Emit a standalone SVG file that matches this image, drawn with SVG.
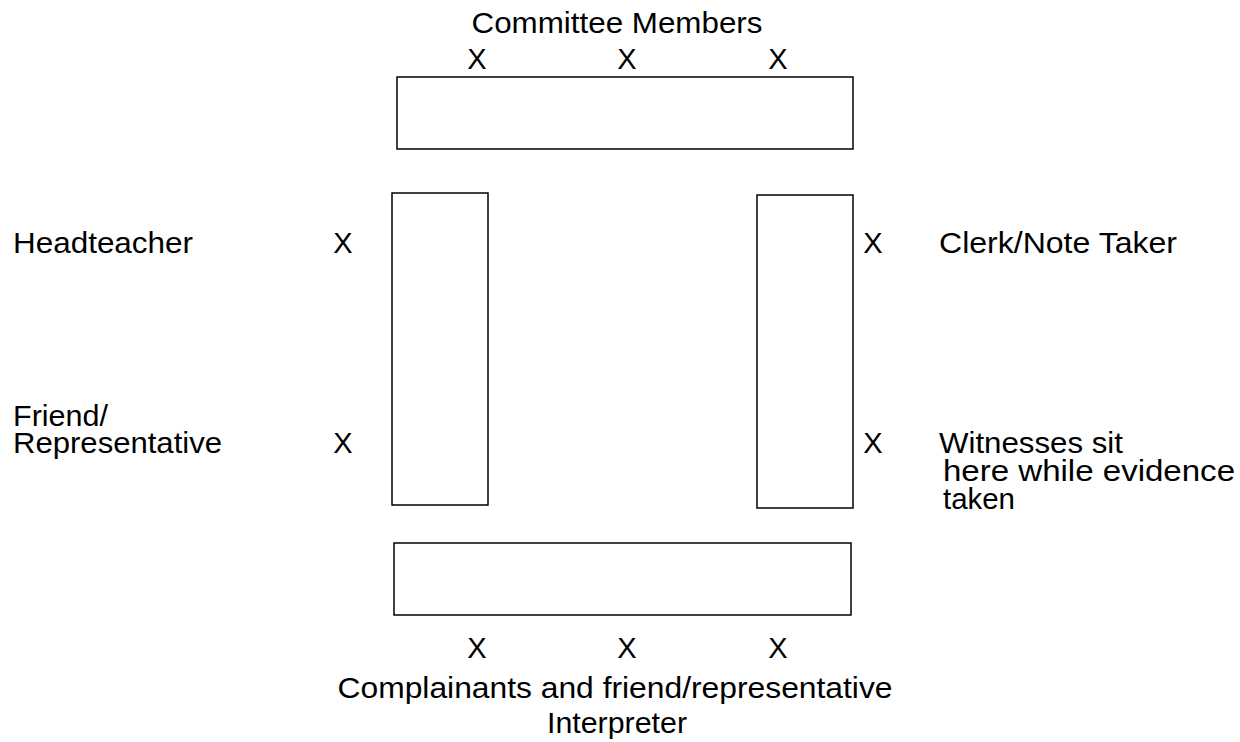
<svg xmlns="http://www.w3.org/2000/svg" width="1240" height="742" viewBox="0 0 1240 742">
<style>
.t{font-family:"Liberation Sans",Arial,sans-serif;font-size:29px;fill:#000}
.m{text-anchor:middle}
.tbl{fill:#fff;stroke:#000;stroke-width:1.5}
</style>
<rect width="1240" height="742" fill="#fff"/>
<g id="top-table"><rect class="tbl" x="397" y="77" width="456" height="72"/></g>
<g id="left-table"><rect class="tbl" x="392" y="193" width="96" height="312"/></g>
<g id="right-table"><rect class="tbl" x="757" y="195" width="96" height="313"/></g>
<g id="bottom-table"><rect class="tbl" x="394" y="543" width="457" height="72"/></g>
<g id="committee">
<text class="t m" x="617" y="33" textLength="291" lengthAdjust="spacingAndGlyphs">Committee Members</text>
<text class="t m" x="477" y="69">X</text>
<text class="t m" x="627" y="69">X</text>
<text class="t m" x="778" y="69">X</text>
</g>
<g id="headteacher">
<text class="t" x="13" y="253" textLength="180" lengthAdjust="spacingAndGlyphs">Headteacher</text>
<text class="t m" x="343" y="253">X</text>
</g>
<g id="clerk">
<text class="t m" x="873" y="253">X</text>
<text class="t" x="939" y="253" textLength="238" lengthAdjust="spacingAndGlyphs">Clerk/Note Taker</text>
</g>
<g id="friend">
<text class="t" x="13" y="426" textLength="95" lengthAdjust="spacingAndGlyphs">Friend/</text>
<text class="t" x="13" y="453" textLength="209" lengthAdjust="spacingAndGlyphs">Representative</text>
<text class="t m" x="343" y="453">X</text>
</g>
<g id="witnesses">
<text class="t m" x="873" y="453">X</text>
<text class="t" x="939" y="453" textLength="184" lengthAdjust="spacingAndGlyphs">Witnesses sit</text>
<text class="t" x="943" y="481" textLength="292" lengthAdjust="spacingAndGlyphs">here while evidence</text>
<text class="t" x="943" y="509" textLength="72" lengthAdjust="spacingAndGlyphs">taken</text>
</g>
<g id="complainants">
<text class="t m" x="477" y="658">X</text>
<text class="t m" x="627" y="658">X</text>
<text class="t m" x="778" y="658">X</text>
<text class="t m" x="615" y="698" textLength="555" lengthAdjust="spacingAndGlyphs">Complainants and friend/representative</text>
<text class="t m" x="617" y="733" textLength="140" lengthAdjust="spacingAndGlyphs">Interpreter</text>
</g>
<g id="connectors"/>
</svg>
